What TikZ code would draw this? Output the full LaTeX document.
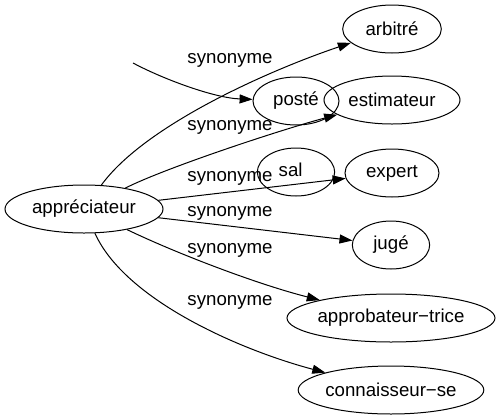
\documentclass[tikz,border=0pt]{standalone}
\usepackage{fontspec}
\setmainfont{Liberation Sans}
\usetikzlibrary{shapes.geometric,arrows.meta}

\begin{document}
\begin{tikzpicture}[x=0.75pt,y=-0.75pt,
    every node/.style={font=\fontsize{14}{16}\selectfont},
    word/.style={draw, ellipse, minimum height=36pt, inner sep=0pt, line width=0.75pt},
    rel/.style={-{Triangle[length=9.75pt,width=6.75pt]}, line width=0.75pt},
    lab/.style={inner sep=0pt}]
    \useasboundingbox (0,0) rectangle (501,419);

    \node[word, minimum width=118.5pt] (appreciateur) at (84,209) {appréciateur};
    \node[word, minimum width=74pt] (arbitre) at (392,29) {arbitré};
    \node[word, minimum width=64.5pt] (poste) at (296,101) {posté};
    \node[word, minimum width=102pt] (estimateur) at (392,100) {estimateur};
    \node[word, minimum width=58pt, label={[lab, xshift=-4pt, yshift=1.5pt]center:sal}] (sal) at (296,172) {};
    \node[word, minimum width=70.5pt] (expert) at (392,173) {expert};
    \node[word, minimum width=58pt] (juge) at (391,245) {jugé};
    \node[word, minimum width=156pt] (approbateur) at (391,318) {approbateur−trice};
    \node[word, minimum width=136pt] (connaisseur) at (391,390) {connaisseur−se};
    \coordinate (loose) at (133,63);

    \draw[rel] (appreciateur) .. controls (145,125) and (270,70) .. (arbitre); % top
    \draw[rel] (loose) .. controls (165,80) and (215,98) .. (poste);
    \draw[rel] (appreciateur) .. controls (165,168) and (280,130) .. (estimateur);
    \draw[rel] (appreciateur) -- (expert);
    \draw[rel] (appreciateur) -- (juge);
    \draw[rel] (appreciateur) .. controls (180,255) and (260,285) .. (approbateur);
    \draw[rel] (appreciateur) .. controls (125,300) and (240,350) .. (connaisseur); % bottom

    \node[lab] (syn1) at (230,60) {synonyme};
    \node[lab] (syn2) at (230,127) {synonyme};
    \node[lab] (syn3) at (230,178) {synonyme};
    \node[lab] (syn4) at (230,213) {synonyme};
    \node[lab] (syn5) at (230,250) {synonyme};
    \node[lab] (syn6) at (230,302) {synonyme};
\end{tikzpicture}
\end{document}
